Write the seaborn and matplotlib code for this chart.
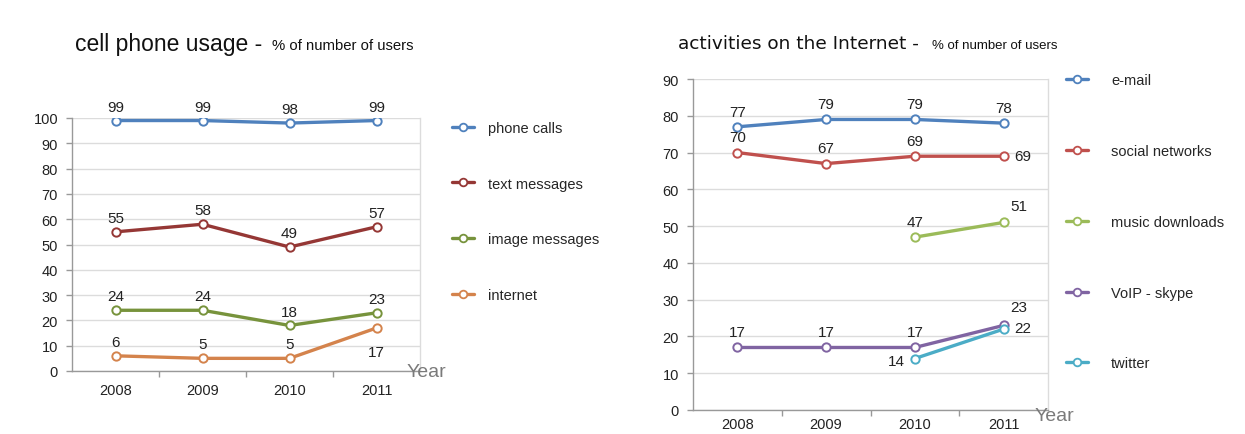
import numpy as np
import pandas as pd
import matplotlib
matplotlib.use("Agg")
import matplotlib.pyplot as plt
from matplotlib.lines import Line2D
from matplotlib.ticker import FixedLocator, MultipleLocator
import seaborn as sns

# ---- data -------------------------------------------------------------
years = ["2008", "2009", "2010", "2011"]

phone_series = ["phone calls", "text messages", "image messages", "internet"]
phone_calls = [99, 99, 98, 99]
text_messages = [55, 58, 49, 57]
image_messages = [24, 24, 18, 23]
internet = [6, 5, 5, 17]

web_series = ["e-mail", "social networks", "music downloads", "VoIP - skype", "twitter"]
email = [77, 79, 79, 78]
social_networks = [70, 67, 69, 69]
music_downloads = [np.nan, np.nan, 47, 51]
voip_skype = [17, 17, 17, 23]
twitter = [np.nan, np.nan, 14, 22]

phone_colors = ["#4f81bd", "#953735", "#77933c", "#d4834c"]
web_colors = ["#4f81bd", "#c0504d", "#9bbb59", "#8064a2", "#4bacc6"]


def long_frame(names, columns):
    rows = []
    for name, vals in zip(names, columns):
        for i, v in enumerate(vals):
            rows.append({"series": name, "pos": i, "year": years[i], "value": v})
    return pd.DataFrame(rows)


phone_df = long_frame(phone_series, [phone_calls, text_messages, image_messages, internet])
web_df = long_frame(web_series, [email, social_networks, music_downloads, voip_skype, twitter])

# ---- style ------------------------------------------------------------
sns.set_theme(style="white")
plt.rcParams["font.family"] = ["Liberation Sans", "DejaVu Sans"]

W, H = 1245, 435
fig = plt.figure(figsize=(W / 100, H / 100), dpi=100)
fig.patch.set_facecolor("white")


def px_axes(x0, x1, ytop, ybot):
    return fig.add_axes([x0 / W, (H - ybot) / H, (x1 - x0) / W, (ybot - ytop) / H])


ax1 = px_axes(72, 420, 119, 372)
ax2 = px_axes(693, 1048, 80, 411)


def style_axes(ax, ymax, step, xpad):
    ax.set_xlim(-0.5, 3.5)
    ax.set_ylim(0, ymax)
    ax.set_facecolor("white")
    ax.yaxis.set_major_locator(MultipleLocator(step))
    ax.grid(axis="y", color="#dcdcdc", linewidth=1.0)
    ax.set_axisbelow(True)
    ax.set_xticks(range(len(years)))
    ax.set_xticklabels(years)
    ax.xaxis.set_minor_locator(FixedLocator([0.5, 1.5, 2.5]))
    ax.tick_params(axis="x", which="major", length=0, pad=xpad, labelsize=10.5, labelcolor="#222222")
    ax.tick_params(axis="x", which="minor", length=4, width=1, color="#999999", direction="out", bottom=True)
    ax.tick_params(axis="y", which="major", length=4, width=1, color="#999999", direction="out",
                   left=True, pad=6, labelsize=10.5, labelcolor="#222222")
    for side in ["left", "bottom"]:
        ax.spines[side].set_color("#999999")
        ax.spines[side].set_linewidth(1.0)
    ax.spines["right"].set_color("#dcdcdc")
    ax.spines["right"].set_linewidth(1.0)
    ax.spines["top"].set_visible(False)
    ax.set_xlabel("")
    ax.set_ylabel("")


def draw_lines(ax, df, names, colors):
    sns.lineplot(data=df, x="pos", y="value", hue="series", hue_order=names,
                 palette=colors, marker="o", markersize=6, markerfacecolor="white",
                 markeredgewidth=1.4, linewidth=2.4, ax=ax, legend=False)
    for line, c in zip(ax.get_lines(), colors):
        line.set_markeredgecolor(c)


def annotate_values(ax, names, columns, offsets, default):
    for name, vals in zip(names, columns):
        offs = offsets.get(name, [default] * len(vals))
        for i, v in enumerate(vals):
            if np.isnan(v):
                continue
            ax.annotate(f"{v:g}", (i, v), xytext=offs[i], textcoords="offset points",
                        ha="center", va="center", fontsize=11, color="#222222")


# ---- left chart -------------------------------------------------------
draw_lines(ax1, phone_df, phone_series, phone_colors)
style_axes(ax1, 100, 10, 9)
annotate_values(ax1, phone_series, [phone_calls, text_messages, image_messages, internet],
                {"internet": [(0, 10), (0, 10), (0, 10), (0, -17)]}, (0, 10))

# ---- right chart ------------------------------------------------------
draw_lines(ax2, web_df, web_series, web_colors)
style_axes(ax2, 90, 10, 5)
annotate_values(ax2, web_series, [email, social_networks, music_downloads, voip_skype, twitter],
                {
                    "social networks": [(0, 11), (0, 11), (0, 11), (14, 0)],
                    "music downloads": [(0, 11), (0, 11), (0, 11), (11, 12)],
                    "VoIP - skype": [(0, 11), (0, 11), (0, 11), (11, 13)],
                    "twitter": [(0, 0), (0, 0), (-13, -2), (14, 1)],
                }, (0, 11))

# ---- legends ----------------------------------------------------------
def side_legend(ax, names, colors, x_px, y_px, spacing, textpad):
    handles = [Line2D([0], [0], color=c, linewidth=2.4, marker="o", markersize=5.5,
                      markerfacecolor="white", markeredgecolor=c, markeredgewidth=1.3)
               for c in colors]
    ax.legend(handles, names, loc="upper left",
              bbox_to_anchor=(x_px / W, (H - y_px) / H), bbox_transform=fig.transFigure,
              frameon=False, fontsize=10.5, handlelength=1.5, handletextpad=textpad,
              labelspacing=spacing, borderaxespad=0, borderpad=0)


side_legend(ax1, phone_series, phone_colors, 452, 122, 2.85, 1.0)
side_legend(ax2, web_series, web_colors, 1066, 74, 3.9, 1.6)

# ---- titles and axis words --------------------------------------------
fig.text(75 / W, (H - 45) / H, "cell phone usage -", fontsize=16.5, va="center", ha="left",
         color="#111111")
fig.text(272 / W, (H - 46) / H, "% of number of users", fontsize=10.7, va="center", ha="left",
         color="#111111")
fig.text(678 / W, (H - 44) / H, "activities on the Internet -", fontsize=13.3, va="center",
         ha="left", color="#111111", family="DejaVu Sans")
fig.text(932 / W, (H - 46) / H, "% of number of users", fontsize=9.5, va="center", ha="left",
         color="#111111")

fig.text(407 / W, (H - 373) / H, "Year", fontsize=14, va="center", ha="left", color="#7a7a7a")
fig.text(1035 / W, (H - 417) / H, "Year", fontsize=14, va="center", ha="left", color="#7a7a7a")

fig.savefig("out.png", dpi=100, facecolor="white")
